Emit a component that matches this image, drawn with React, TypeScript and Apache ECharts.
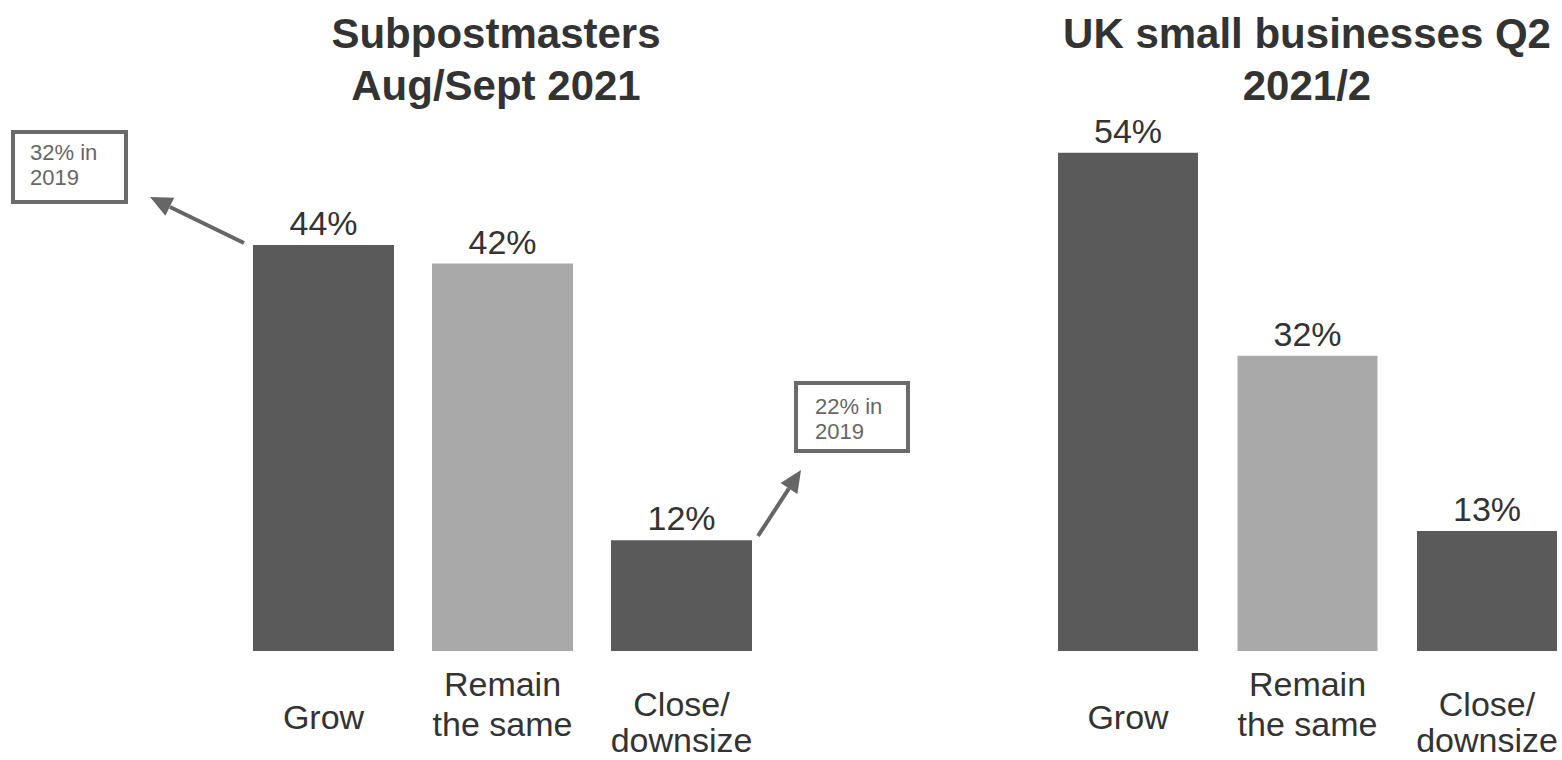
import React, { useEffect, useRef } from "react";
import * as echarts from "echarts";

const categories = ["Grow", "Remain\nthe same", "Close/\ndownsize"];
const subpostmasters = [44, 42, 12];
const ukSmallBusinesses = [54, 32, 13];
const titles = ["Subpostmasters\nAug/Sept 2021", "UK small businesses Q2\n2021/2"];
const notes = ["32% in\n2019", "22% in\n2019"];

const DARK = "#5a5a5a";
const LIGHT = "#a9a9a9";
const TEXT = "#333333";
const FONT = "Liberation Sans, Arial, sans-serif";
const barColors = [DARK, LIGHT, DARK];
// vertical offset (px) of each category label block below the axis
const labelSpacers = [33, 0, 18];

export default function App() {
  const ref = useRef<HTMLDivElement>(null);
  useEffect(() => {
    if (!ref.current) return;
    const chart = echarts.init(ref.current, undefined, { renderer: "svg" });

    const rich: any = {
      n: { fontSize: 34, lineHeight: 40, color: TEXT, fontFamily: FONT },
      a: { fontSize: 34, lineHeight: 44, color: TEXT, fontFamily: FONT },
      b: { fontSize: 34, lineHeight: 28, color: TEXT, fontFamily: FONT },
    };
    labelSpacers.forEach((h, i) => {
      if (h > 0) rich["s" + i] = { fontSize: 1, lineHeight: h };
    });
    const fmt = (value: string, index: number) => {
      const parts = value.split("\n");
      let lines: string[];
      if (index === 2) {
        lines = [`{a|${parts[0]}}`, `{b|${parts[1]}}`];
      } else {
        lines = parts.map((l) => `{n|${l}}`);
      }
      if (labelSpacers[index] > 0) lines.unshift(`{s${index}| }`);
      return lines.join("\n");
    };

    const xAxisBase = (gridIndex: number, boundaryGap: boolean) => ({
      type: "category" as const,
      gridIndex,
      boundaryGap,
      data: categories,
      axisLine: { show: false },
      axisTick: { show: false },
      axisLabel: { interval: 0, margin: 13, formatter: fmt, rich },
    });
    const yAxisBase = (gridIndex: number) => ({
      type: "value" as const,
      gridIndex,
      min: 0,
      max: 60,
      show: false,
      splitLine: { show: false },
    });
    const series = (idx: number, data: number[], barWidth: number) => ({
      type: "bar" as const,
      xAxisIndex: idx,
      yAxisIndex: idx,
      barWidth,
      clip: false,
      data: data.map((v, i) => ({ value: v, itemStyle: { color: barColors[i] } })),
      label: {
        show: true,
        position: "top",
        distance: 5,
        formatter: "{c}%",
        fontSize: 34,
        color: TEXT,
        fontFamily: FONT,
      },
    });

    const noteStyle = { fontSize: 22, lineHeight: 25, fill: "#666666", fontFamily: FONT };
    const titleStyle = { fontSize: 42, lineHeight: 52, fontWeight: "bold", color: TEXT, fontFamily: FONT };

    chart.setOption({
      animation: false,
      backgroundColor: "#ffffff",
      title: [
        { text: titles[0], left: 496, top: 7, padding: 0, textAlign: "center", textStyle: titleStyle },
        { text: titles[1], left: 1307, top: 7, padding: 0, textAlign: "center", textStyle: titleStyle },
      ],
      grid: [
        { left: 234, width: 537, top: 97.5, bottom: 109 },
        { left: 1128, width: 359, top: 97.5, bottom: 109 },
      ],
      xAxis: [xAxisBase(0, true), xAxisBase(1, false)],
      yAxis: [yAxisBase(0), yAxisBase(1)],
      series: [series(0, subpostmasters, 141), series(1, ukSmallBusinesses, 140)],
      graphic: [
        {
          type: "rect",
          shape: { x: 13, y: 132, width: 113, height: 70 },
          style: { fill: "#ffffff", stroke: "#6b6b6b", lineWidth: 4 },
        },
        { type: "text", x: 30, y: 140, style: { text: notes[0], ...noteStyle } },
        {
          type: "rect",
          shape: { x: 796, y: 383, width: 112, height: 68 },
          style: { fill: "#ffffff", stroke: "#6b6b6b", lineWidth: 4 },
        },
        { type: "text", x: 815, y: 394, style: { text: notes[1], ...noteStyle } },
        {
          type: "line",
          shape: { x1: 244, y1: 243, x2: 170, y2: 207 },
          style: { stroke: "#666666", lineWidth: 4 },
        },
        {
          type: "polygon",
          shape: { points: [[150, 197], [174.2, 197.7], [165.4, 215.7]] },
          style: { fill: "#666666" },
        },
        {
          type: "line",
          shape: { x1: 758, y1: 536, x2: 789, y2: 488.4 },
          style: { stroke: "#666666", lineWidth: 4 },
        },
        {
          type: "polygon",
          shape: { points: [[801, 470], [797.4, 493.9], [780.6, 482.9]] },
          style: { fill: "#666666" },
        },
      ],
    });
    return () => chart.dispose();
  }, []);

  return (
    <div
      ref={ref}
      style={{ position: "fixed", left: 0, top: 0, width: 1562, height: 760, background: "#fff" }}
    />
  );
}
